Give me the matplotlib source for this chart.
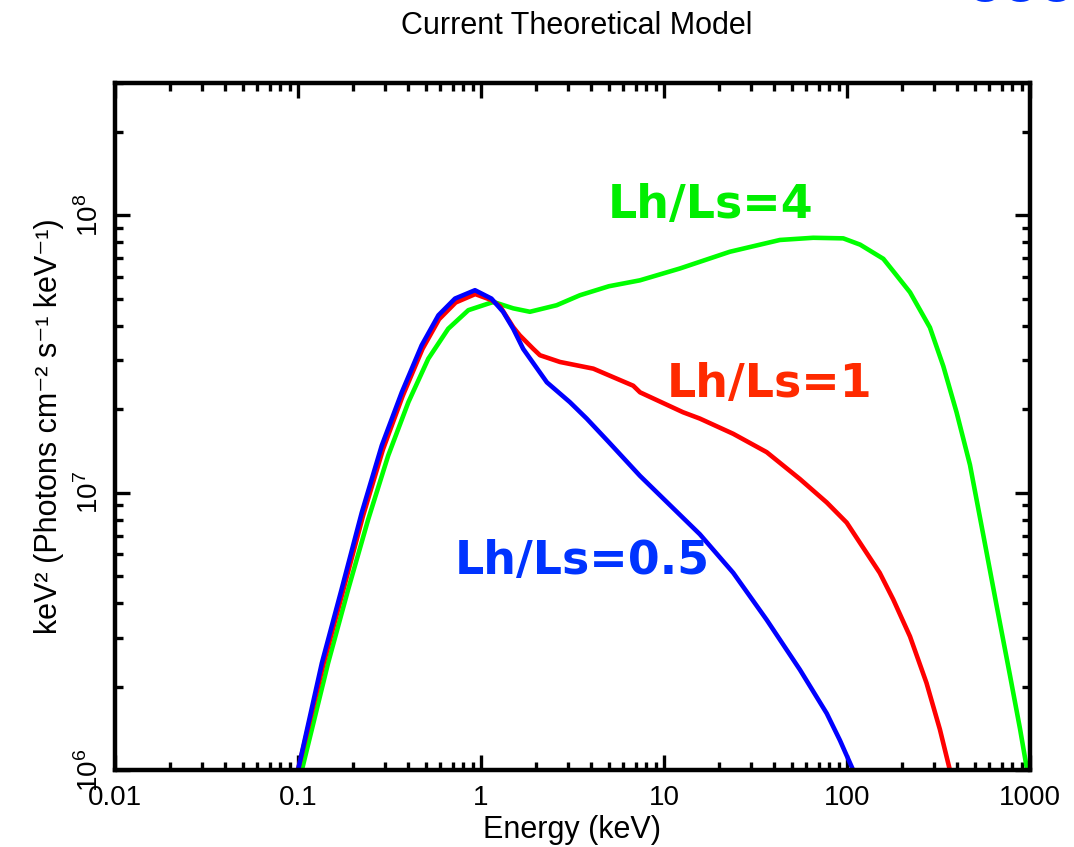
import numpy as np
import matplotlib
matplotlib.use("Agg")
import matplotlib.pyplot as plt
from matplotlib.ticker import LogLocator, NullFormatter, FixedLocator

plt.rcParams['font.family'] = ['Liberation Sans', 'DejaVu Sans']
plt.rcParams['mathtext.fontset'] = 'custom'
plt.rcParams['mathtext.rm'] = 'Liberation Sans'

# model spectra, E^2 F(E) vs energy (keV)
energy_05 = [0.1, 0.135, 0.173, 0.223, 0.287, 0.369, 0.474, 0.585, 0.721, 0.927, 1.14, 1.32,
             1.50, 1.70, 2.29, 3.06, 3.78, 5.0, 7.39, 15.7, 23.9, 36.4, 55.3, 77.5, 91.5, 108]
flux_05 = [1.0e6, 2.43e6, 4.48e6, 8.47e6, 1.48e7, 2.30e7, 3.40e7, 4.36e7, 5.01e7, 5.37e7, 5.01e7, 4.49e7,
           3.90e7, 3.30e7, 2.50e7, 2.12e7, 1.85e7, 1.52e7, 1.15e7, 7.08e6, 5.14e6, 3.48e6, 2.30e6, 1.60e6,
           1.28e6, 1.0e6]

energy_1 = [0.1, 0.137, 0.175, 0.226, 0.291, 0.373, 0.479, 0.59, 0.727, 0.93, 1.14, 1.27, 1.50, 1.63,
            1.93, 2.10, 2.70, 4.11, 6.79, 7.4, 12.7, 15.7, 23.9, 36.4, 55.3, 77.5, 99.6, 151, 179, 221,
            272, 322, 365]
flux_1 = [1.0e6, 2.38e6, 4.35e6, 8.2e6, 1.43e7, 2.23e7, 3.30e7, 4.22e7, 4.85e7, 5.20e7, 4.95e7, 4.70e7,
          3.95e7, 3.69e7, 3.30e7, 3.13e7, 2.96e7, 2.80e7, 2.43e7, 2.30e7, 1.95e7, 1.85e7, 1.63e7, 1.40e7,
          1.12e7, 9.22e6, 7.80e6, 5.14e6, 4.12e6, 3.03e6, 2.06e6, 1.40e6, 1.0e6]

energy_4 = [0.105, 0.146, 0.188, 0.242, 0.311, 0.401, 0.515, 0.662, 0.853, 1.10, 1.17, 1.5, 1.85, 2.59,
            3.47, 5.0, 7.39, 12.2, 22.9, 43.0, 65.4, 95.4, 118, 158, 179, 221, 284, 336, 397, 470, 556,
            657, 778, 882, 965]
flux_4 = [1.0e6, 2.43e6, 4.48e6, 8.02e6, 1.36e7, 2.12e7, 3.04e7, 3.90e7, 4.55e7, 4.81e7, 4.87e7, 4.62e7,
          4.49e7, 4.74e7, 5.15e7, 5.55e7, 5.83e7, 6.43e7, 7.39e7, 8.15e7, 8.30e7, 8.26e7, 7.84e7, 6.97e7,
          6.29e7, 5.28e7, 3.94e7, 2.86e7, 1.95e7, 1.26e7, 7.03e6, 3.92e6, 2.19e6, 1.41e6, 1.0e6]

labels = ['Lh/Ls=0.5', 'Lh/Ls=1', 'Lh/Ls=4']
x_ticks = [0.01, 0.1, 1, 10, 100, 1000]
x_ticklabels = ['0.01', '0.1', '1', '10', '100', '1000']
y_ticks = [1e6, 1e7, 1e8]
y_ticklabels = [r'$10^{6}$', r'$10^{7}$', r'$10^{8}$']

fig = plt.figure(figsize=(10.74, 8.47), dpi=100)
ax = fig.add_axes([0.1071, 0.0909, 0.8519, 0.8111])

ax.plot(energy_4, flux_4, color='#00ff00', lw=3.3, solid_joinstyle='round')
ax.plot(energy_1, flux_1, color='#ff0000', lw=3.3, solid_joinstyle='round')
ax.plot(energy_05, flux_05, color='#0000ff', lw=3.3, solid_joinstyle='round')

ax.set_xscale('log')
ax.set_yscale('log')
ax.set_xlim(0.01, 1000)
ax.set_ylim(1e6, 3e8)

ax.xaxis.set_major_locator(FixedLocator(x_ticks))
ax.set_xticklabels(x_ticklabels)
ax.yaxis.set_major_locator(FixedLocator(y_ticks))
ax.set_yticklabels(y_ticklabels, rotation=90, va='center')
for a in (ax.xaxis, ax.yaxis):
    a.set_minor_locator(LogLocator(base=10, subs=np.arange(2, 10)))
    a.set_minor_formatter(NullFormatter())

ax.tick_params(which='both', direction='in', top=True, right=True, width=2.4, labelsize=20, color='black')
ax.tick_params(axis='x', which='major', length=11, pad=11)
ax.tick_params(axis='y', which='major', length=11, pad=8)
ax.tick_params(which='minor', length=6)
for s in ax.spines.values():
    s.set_linewidth(3.2)

ax.set_xlabel('Energy (keV)', fontsize=22, labelpad=3)
ax.set_ylabel('keV² (Photons cm⁻² s⁻¹ keV⁻¹)', fontsize=22, labelpad=8)
fig.text(0.537, 0.969, 'Current Theoretical Model', ha='center', va='center', fontsize=22)

# curve labels
ax.text(0.538, 0.822, labels[2], transform=ax.transAxes, color='#00ee00', fontsize=33,
        fontweight='heavy', family='DejaVu Sans', va='center')
ax.text(0.603, 0.561, labels[1], transform=ax.transAxes, color='#ff2a00', fontsize=33,
        fontweight='heavy', family='DejaVu Sans', va='center')
ax.text(0.371, 0.303, labels[0], transform=ax.transAxes, color='#0033ff', fontsize=33,
        fontweight='heavy', family='DejaVu Sans', va='center')

# slide text clipped at the top edge
fig.text(0.951, 0.9985, 'ooo', ha='center', va='baseline', fontsize=38, fontweight='bold',
         color='#0033ff', family='DejaVu Sans')

fig.savefig('out.png', dpi=100)
